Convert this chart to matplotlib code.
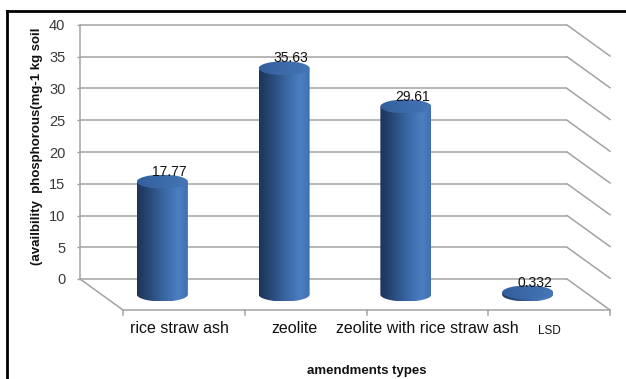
import numpy as np
import matplotlib.pyplot as plt
from matplotlib.path import Path
from matplotlib.patches import PathPatch, Ellipse
from matplotlib.lines import Line2D
from matplotlib.colors import LinearSegmentedColormap

# ----------------------------------------------------
# DATA
# ----------------------------------------------------
categories = ["rice straw ash", "zeolite", "zeolite with rice straw ash", "LSD"]
values = [17.77, 35.63, 29.61, 0.332]
value_labels = ["17.77", "35.63", "29.61", "0.332"]
y_ticks = [0, 5, 10, 15, 20, 25, 30, 35, 40]

plt.rcParams['font.family'] = ['Liberation Sans', 'DejaVu Sans']

W, H = 626, 379
fig = plt.figure(figsize=(W / 100, H / 100), dpi=100)
# axes = back wall of the 3d box
ax = fig.add_axes([80 / W, 100 / H, 487 / W, 254 / H])

# depth of the box (front plane offset) in data units
px_x = 487 / 4
px_y = 254 / 40
DX = 43 / px_x
DY = 31 / px_y
GRID = '#a3a3a3'

# cylinder geometry
CW = 51 / px_x      # cylinder width
CB = 7 / px_y       # ellipse half-height

body_cmap = LinearSegmentedColormap.from_list(
    'body', [(0, '#1d3458'), (0.2, '#264572'), (0.6, '#3e6dac'),
             (0.82, '#4c7ec2'), (1, '#4070b1')])
cap_cmap = LinearSegmentedColormap.from_list('cap', ['#335f9c', '#4676b7'])
grad = np.linspace(0, 1, 256).reshape(1, -1)


def gradient_fill(patch, cmap, x0, x1, y0, y1, z):
    im = ax.imshow(grad, extent=(x0, x1, y0, y1), cmap=cmap, aspect='auto',
                   interpolation='bilinear', zorder=z)
    # allow drawing below the back wall, but keep the cylinder outline
    im.set_clip_box(fig.bbox)
    im.set_clip_path(patch)


# ----------------------------------------------------
# BOX: back wall grid, side lines, floor
# ----------------------------------------------------
ax.hlines(y_ticks, -0.5, 3.5, colors=GRID, lw=1.1, clip_on=False, zorder=1)
for y in y_ticks:
    ax.plot([3.5, 3.5 + DX], [y, y - DY], color=GRID, lw=1.1,
            clip_on=False, zorder=1)
ax.plot([-0.5, -0.5 + DX, 3.5 + DX], [0, -DY, -DY], color=GRID, lw=1.1,
        clip_on=False, zorder=1)
for k in range(5):
    xk = k - 0.5 + DX
    ax.plot([xk, xk], [-DY, -DY - 0.8], color=GRID, lw=1.1,
            clip_on=False, zorder=1)

# ----------------------------------------------------
# CYLINDERS
# ----------------------------------------------------
theta = np.linspace(np.pi, 2 * np.pi, 60)
for i, v in enumerate(values):
    cx = i + DX / 2
    base = -DY / 2
    top = v - DY / 2
    x0, x1 = cx - CW / 2, cx + CW / 2

    arc_x = cx + CW / 2 * np.cos(theta)
    arc_y = base + CB * np.sin(theta)
    verts = ([(x0, top)] + list(zip(arc_x, arc_y)) + [(x1, top), (x0, top)])
    body = PathPatch(Path(verts, closed=True), transform=ax.transData,
                     facecolor='none', edgecolor='none')
    gradient_fill(body, body_cmap, x0, x1, base - CB, top, 3 + i)

    cap = Ellipse((cx, top), CW, 2 * CB, transform=ax.transData,
                  facecolor='none', edgecolor='none')
    gradient_fill(cap, cap_cmap, x0, x1, top - CB, top + CB, 3.5 + i)

    ax.text(cx + 7 / px_x, top + 1.55, value_labels[i], ha='center',
            va='center', fontsize=10, color='#111111', zorder=10,
            clip_on=False)

# ----------------------------------------------------
# AXES, LABELS
# ----------------------------------------------------
ax.set_xlim(-0.5, 3.5)
ax.set_ylim(0, 40)
ax.set_yticks(y_ticks)
ax.set_xticks([])
for s in ['top', 'right', 'bottom']:
    ax.spines[s].set_visible(False)
ax.spines['left'].set_color(GRID)
ax.spines['left'].set_linewidth(1.1)
ax.tick_params(axis='y', length=2.5, width=1, color=GRID, pad=8,
               labelsize=10.5, labelcolor='#3a3a3a')
ax.set_facecolor('none')

# small horizontal nudges (pixels) for the category labels
label_nudge = [-4, -11, 0, 0]
for i, cat in enumerate(categories):
    xl = i + DX + label_nudge[i] / px_x
    if cat == "LSD":
        ax.text(xl, -DY - 3.3, cat, ha='center', va='center',
                fontsize=8.5, color='#111111', clip_on=False)
    else:
        ax.text(xl, -DY - 2.85, cat, ha='center', va='center',
                fontsize=11.5, color='#111111', clip_on=False)

ax.set_ylabel("(availbility  phosphorous(mg-1 kg soil", fontsize=9.5,
              fontweight='bold', color='#111111')
ax.yaxis.set_label_coords(-0.076, 0.524)

fig.text(367 / W, 1 - 371 / H, "amendments types", ha='center', va='center',
         fontsize=9.5, fontweight='bold', color='#111111')

# outer frame
fig.add_artist(Line2D([7 / W, 1], [1 - 11 / H] * 2, transform=fig.transFigure,
                      color='black', lw=2))
fig.add_artist(Line2D([7 / W, 7 / W], [0, 1 - 11 / H],
                      transform=fig.transFigure, color='black', lw=2))

fig.savefig('out.png', dpi=100)
